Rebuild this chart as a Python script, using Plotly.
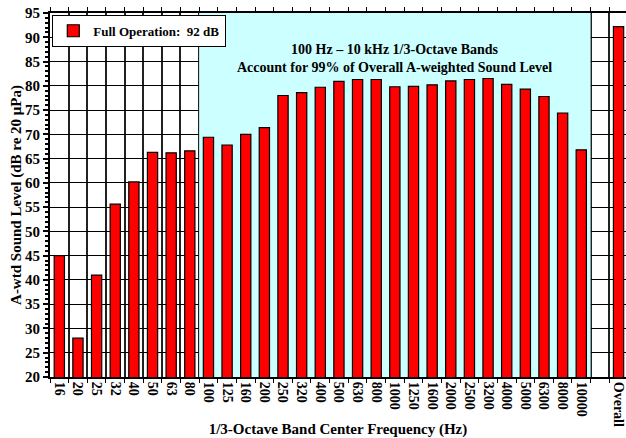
import plotly.graph_objects as go

# 1/3-octave band centre frequencies (Hz) and A-weighted levels (dB)
bands = ["16", "20", "25", "32", "40", "50", "63", "80", "100", "125", "160",
         "200", "250", "320", "400", "500", "630", "800", "1000", "1250",
         "1600", "2000", "2500", "3200", "4000", "5000", "6300", "8000", "10000"]
levels = [45.0, 28.0, 41.0, 55.6, 60.2, 66.3, 66.2, 66.6, 69.4, 67.8, 70.0,
          71.4, 78.0, 78.6, 79.7, 80.9, 81.3, 81.3, 79.8, 79.9,
          80.2, 81.0, 81.3, 81.5, 80.3, 79.3, 77.8, 74.4, 66.8]
overall_label = "Overall"
overall_level = 92.2

series_name = "Full Operation:\u00a0 92 dB"
note_text = ("100 Hz \u2013 10 kHz 1/3-Octave Bands<br>"
             "Account for 99% of Overall A-weighted Sound Level")

FONT = "Liberation Serif, Times New Roman, serif"

# blank slot separates the bands from the overall level
cats = bands + [" ", overall_label]
vals = levels + [None, overall_level]

fig = go.Figure()
fig.add_trace(go.Bar(
    x=cats, y=vals, name=series_name, showlegend=True,
    width=0.55,
    marker=dict(color="#FF0000", line=dict(color="black", width=1.2)),
))

# light cyan band behind the 100 Hz - 10 kHz bars (covers the grid)
fig.add_shape(type="rect", xref="x", yref="y",
              x0=bands.index("100") - 0.5, x1=len(bands) - 0.5, y0=20, y1=95,
              fillcolor="#CCFFFF", line=dict(width=0), layer="between")

fig.add_annotation(xref="x", yref="paper", x=18.0, y=0.925,
                   text="<b>" + note_text + "</b>", showarrow=False,
                   xanchor="center", yanchor="top",
                   font=dict(family=FONT, size=14, color="black"))

fig.update_layout(
    width=626, height=438,
    margin=dict(l=50, r=0, t=13, b=61),
    plot_bgcolor="white", paper_bgcolor="white",
    font=dict(family=FONT, color="black"),
    bargap=0.45,
    legend=dict(x=0.004, y=0.995, xanchor="left", yanchor="top",
                bgcolor="white", bordercolor="black", borderwidth=1,
                font=dict(family=FONT, size=13, color="black", weight="bold"),
                itemwidth=30),
    xaxis=dict(
        type="category", categoryorder="array", categoryarray=cats,
        range=[-0.5, len(cats) - 0.6], autorange=False, automargin=False,
        tickson="boundaries", ticks="outside", ticklen=4, tickcolor="black",
        tickangle=90, tickfont=dict(family=FONT, size=14, weight="bold"),
        ticklabeloverflow="allow",
        showgrid=True, gridcolor="#222222", gridwidth=1.5,
        showline=True, linecolor="black", linewidth=2, mirror="ticks",
        title=dict(text="<b>1/3-Octave Band Center Frequency (Hz)</b>",
                   font=dict(family=FONT, size=15), standoff=12),
    ),
    yaxis=dict(
        range=[20, 95], autorange=False, automargin=False, dtick=5, tick0=20,
        ticks="outside", ticklen=5, tickcolor="black", tickwidth=1.5,
        minor=dict(dtick=1, ticks="outside", ticklen=3, tickcolor="black",
                   showgrid=False),
        tickfont=dict(family=FONT, size=15, weight="bold"),
        ticklabeloverflow="allow",
        showgrid=True, gridcolor="black", gridwidth=1,
        showline=True, linecolor="black", linewidth=2,
        title=dict(text="<b>A-wtd Sound Level (dB re 20 \u03bcPa)</b>",
                   font=dict(family=FONT, size=15), standoff=0),
    ),
)

# drop the page's default body margin so the figure fills the window
fig.write_html("out.html", config={"displayModeBar": False},
               post_script="document.body.style.margin='0';"
                           "document.body.style.overflow='hidden';")
